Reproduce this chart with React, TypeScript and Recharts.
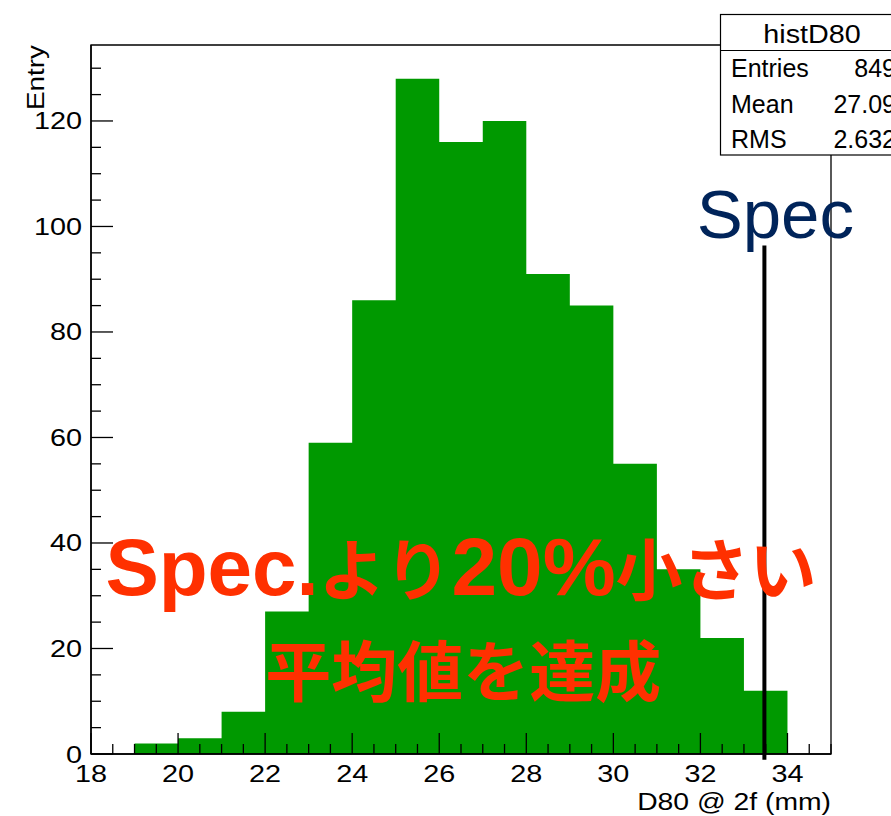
import React from "react";
import {
  ComposedChart,
  Area,
  XAxis,
  YAxis,
  ReferenceLine,
  ReferenceArea,
  ReferenceDot,
  Label,
} from "recharts";

// histogram bins (lower edge, width 1 mm)
const binLow = [19, 20, 21, 22, 23, 24, 25, 26, 27, 28, 29, 30, 31, 32, 33];
const binCounts = [2, 3, 8, 27, 59, 86, 128, 116, 120, 91, 85, 55, 35, 22, 12];
const lastEdge = 34;

const xMajor = [18, 20, 22, 24, 26, 28, 30, 32, 34];
const yMajor = [0, 20, 40, 60, 80, 100, 120];

const statTitle = "histD80";
const statLabels = ["Entries", "Mean", "RMS"];
const statValues = ["849", "27.09", "2.632"];

const specX = 33.47;
const specTop = 96.4;

const FONT = '"Liberation Sans", Arial, Helvetica, sans-serif';
const CJK = '"Noto Sans CJK JP", "Liberation Sans", sans-serif';
const SX = 1.2; // the original labels are a bit wider than Liberation

const data = binLow
  .map((x, i) => ({ edge: x, count: binCounts[i] }))
  .concat([{ edge: lastEdge, count: 0 }]);

const xTicks: number[] = [];
for (let v = 18; v <= 35; v += 0.5) xTicks.push(v);
const yTicks: number[] = [];
for (let v = 0; v <= 130; v += 5) yTicks.push(v);

const XTick = (props: any) => {
  const { x, y, payload } = props;
  const major = xMajor.includes(payload.value);
  return (
    <g>
      <line x1={x} y1={y} x2={x} y2={y - (major ? 21 : 10)} stroke="#000" strokeWidth={1.3} />
      {major && (
        <text
          transform={`translate(${x}, ${y + 28}) scale(${SX}, 1)`}
          textAnchor="middle"
          fontFamily={FONT}
          fontSize={24}
          fill="#000"
        >
          {payload.value}
        </text>
      )}
    </g>
  );
};

const YTick = (props: any) => {
  const { x, y, payload } = props;
  const major = yMajor.includes(payload.value);
  return (
    <g>
      <line x1={x} y1={y} x2={x + (major ? 22 : 10)} y2={y} stroke="#000" strokeWidth={1.3} />
      {major && (
        <text
          transform={`translate(${x - 9}, ${y + 8.5}) scale(${SX}, 1)`}
          textAnchor="end"
          fontFamily={FONT}
          fontSize={24}
          fill="#000"
        >
          {payload.value}
        </text>
      )}
    </g>
  );
};

export default function App() {
  return (
    <div style={{ position: "absolute", left: 0, top: 0, width: 891, height: 816, overflow: "hidden", background: "#fff" }}>
      <ComposedChart
        width={891}
        height={816}
        data={data}
        margin={{ top: 45, right: 60, bottom: 0, left: 0 }}
      >
        <Area
          type="stepAfter"
          dataKey="count"
          fill="#009900"
          fillOpacity={1}
          stroke="none"
          isAnimationActive={false}
        />
        <ReferenceArea x1={18} x2={35} y1={0} y2={134.4} fill="none" stroke="#000" strokeWidth={1.3} ifOverflow="visible" />
        <XAxis
          dataKey="edge"
          type="number"
          domain={[18, 35]}
          ticks={xTicks}
          interval={0}
          height={62}
          tickSize={0}
          tickMargin={0}
          tickLine={false}
          axisLine={{ stroke: "#000", strokeWidth: 1.5 }}
          tick={(p: any) => <XTick {...p} />}
          allowDataOverflow
        >
          <Label
            content={(p: any) => (
              <text
                transform={`translate(${p.viewBox.x + p.viewBox.width}, ${p.viewBox.y + 56}) scale(1.18, 1)`}
                textAnchor="end"
                fontFamily={FONT}
                fontSize={24}
                fill="#000"
              >
                D80 @ 2f (mm)
              </text>
            )}
          />
        </XAxis>
        <YAxis
          type="number"
          domain={[0, 134.4]}
          ticks={yTicks}
          interval={0}
          width={91}
          tickSize={0}
          tickMargin={0}
          tickLine={false}
          axisLine={{ stroke: "#000", strokeWidth: 1.5 }}
          tick={(p: any) => <YTick {...p} />}
          allowDataOverflow
        >
          <Label
            content={(p: any) => (
              <text
                transform={`translate(44, ${p.viewBox.y}) rotate(-90) scale(1.16, 1)`}
                textAnchor="end"
                fontFamily={FONT}
                fontSize={24}
                fill="#000"
              >
                Entry
              </text>
            )}
          />
        </YAxis>
        <ReferenceLine
          segment={[
            { x: specX, y: -1.1 },
            { x: specX, y: specTop },
          ]}
          stroke="#000"
          strokeWidth={4}
          ifOverflow="visible"
        />
        <ReferenceDot
          x={33.72}
          y={97.9}
          ifOverflow="visible"
          shape={(p: any) => (
            <text x={p.cx} y={p.cy} textAnchor="middle" fontFamily={FONT} fontSize={69} fill="#00245a">
              Spec
            </text>
          )}
        />
        <ReferenceDot
          x={26.5}
          y={30.2}
          ifOverflow="visible"
          shape={(p: any) => (
            <text x={p.cx} y={p.cy} textAnchor="middle" fontWeight="bold" fill="#ff3000">
              <tspan fontFamily={FONT} fontSize={80}>Spec.</tspan>
              <tspan fontFamily={CJK} fontSize={67}>より</tspan>
              <tspan fontFamily={FONT} fontSize={82}>20%</tspan>
              <tspan fontFamily={CJK} fontSize={67}>小さい</tspan>
            </text>
          )}
        />
        <ReferenceDot
          x={26.55}
          y={10.9}
          ifOverflow="visible"
          shape={(p: any) => (
            <text x={p.cx} y={p.cy} textAnchor="middle" fontWeight="bold" fontFamily={CJK} fontSize={66} fill="#ff3000">
              平均値を達成
            </text>
          )}
        />
      </ComposedChart>
      <svg
        width={891}
        height={816}
        style={{ position: "absolute", left: 0, top: 0, pointerEvents: "none" }}
      >
        <rect x={720.5} y={14.5} width={190} height={140.5} fill="#fff" stroke="#000" strokeWidth={1.2} />
        <line x1={720.5} y1={50.5} x2={891} y2={50.5} stroke="#000" strokeWidth={1.2} />
        <text
          transform="translate(812, 43) scale(1.15, 1)"
          textAnchor="middle"
          fontFamily={FONT}
          fontSize={25}
          fill="#000"
        >
          {statTitle}
        </text>
        {statLabels.map((l, i) => (
          <g key={l}>
            <text x={731} y={77 + i * 35.5} fontFamily={FONT} fontSize={25} fill="#000">
              {l}
            </text>
            <text x={896} y={77 + i * 35.5} textAnchor="end" fontFamily={FONT} fontSize={25} fill="#000">
              {statValues[i]}
            </text>
          </g>
        ))}
      </svg>
    </div>
  );
}
